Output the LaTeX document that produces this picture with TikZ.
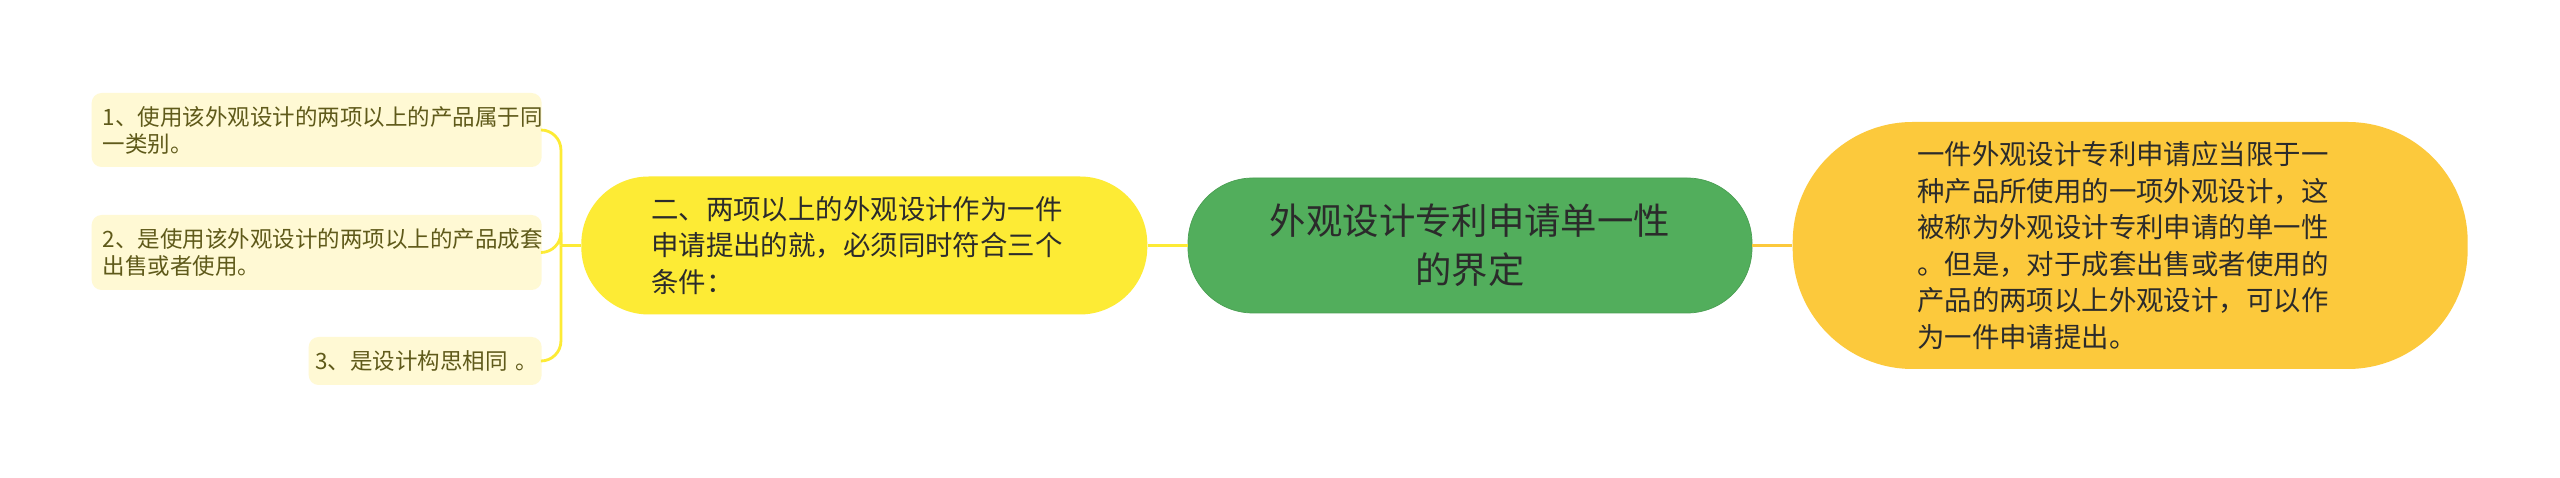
\documentclass[tikz,border=0pt]{standalone}
\usepackage{fontspec}
\usepackage{xcolor}
\usepackage{tikz}
\usetikzlibrary{positioning,calc}
\newfontfamily\cjk{Noto Sans CJK SC}

\definecolor{rootgreen}{HTML}{52AE5C}
\definecolor{rootline}{HTML}{4A9F53}
\definecolor{ideayellow}{HTML}{FDEB35}
\definecolor{noteorange}{HTML}{FCC93C}
\definecolor{leafcream}{HTML}{FFF9D4}
\definecolor{leaftext}{HTML}{5F5A1A}
\definecolor{darktext}{HTML}{2B2B2B}

\begin{document}
\begin{tikzpicture}[
    root/.style={rectangle, draw=rootline, fill=rootgreen, minimum width=11.28cm, minimum height=2.7cm, rounded corners=1.3cm, align=center, text=darktext, font=\cjk\fontsize{20.7}{27.8}\selectfont},
    idea/.style={rectangle, fill=ideayellow, minimum width=11.32cm, minimum height=2.76cm, rounded corners=1.35cm, text width=8.52cm, align=left, text=darktext, font=\cjk\fontsize{15.6}{20.8}\selectfont},
    note/.style={rectangle, fill=noteorange, minimum width=13.5cm, minimum height=4.94cm, rounded corners=2.4cm, text width=8.52cm, align=left, text=darktext, font=\cjk\fontsize{15.6}{20.8}\selectfont},
    leaf/.style={rectangle, fill=leafcream, rounded corners=0.2cm, inner xsep=0.22cm, text width=8.56cm, align=left, text=leaftext, font=\cjk\fontsize{12.8}{15.4}\selectfont},
    branch/.style={line width=1.6pt}
]
\path[use as bounding box, fill=white] (0,0) rectangle (51.2,9.56);

% Root
\node[root] (root) at (29.4,4.65) {外观设计专利申请单一性\\的界定};

% Main branches
\node[idea, left=0.8cm of root] (cond) {二、两项以上的外观设计作为一件\\申请提出的就，必须同时符合三个\\条件：};
\node[note, right=0.8cm of root] (defn) {一件外观设计专利申请应当限于一\\种产品所使用的一项外观设计，这\\被称为外观设计专利申请的单一性\\。但是，对于成套出售或者使用的\\产品的两项以上外观设计，可以作\\为一件申请提出。};

% Conditions
\node[leaf, anchor=east, minimum height=1.48cm] (leaf1) at (10.84,6.96) {1、使用该外观设计的两项以上的产品属于同\\一类别。};
\node[leaf, anchor=east, minimum height=1.5cm] (leaf2) at (10.84,4.51) {2、是使用该外观设计的两项以上的产品成套\\出售或者使用。};
\node[leaf, anchor=east, minimum height=0.96cm, text width=4.4cm, inner xsep=0.13cm] (leaf3) at (10.84,2.34) {\mbox{3、是设计构思相同 。}};

% Connectors
\coordinate (fork) at ($(cond.west)+(-0.4,0)$);
\draw[branch, ideayellow] (cond.east) -- (root.west);
\draw[branch, noteorange] (root.east) -- (defn.west);
\draw[branch, ideayellow] (cond.west) -- (fork);
\foreach \n in {leaf1,leaf2,leaf3}
    \draw[branch, ideayellow, rounded corners=0.4cm] (fork) |- (\n.east);

\end{tikzpicture}
\end{document}
